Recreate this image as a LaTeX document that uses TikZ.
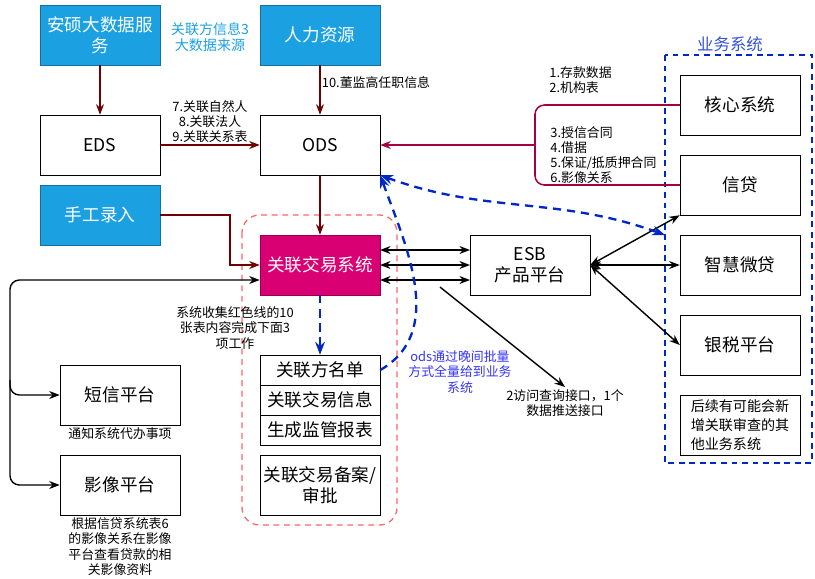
\documentclass[tikz,border=0pt]{standalone}
\usepackage{fontspec}
\setmainfont{Noto Sans CJK SC}
\usepackage{tikz}
\usetikzlibrary{arrows.meta}
\usetikzlibrary{positioning}
\definecolor{skyblue}{HTML}{1BA1E2}
\definecolor{rosered}{HTML}{D80073}
\definecolor{darkred}{HTML}{6F0000}
\definecolor{plum}{HTML}{A50040}
\definecolor{dashblue}{HTML}{0027C8}
\tikzset{
    box/.style={draw, minimum width=3.6cm, minimum height=1.8cm, align=center, inner sep=1pt, font=\fontsize{15}{18}\selectfont},
    srcbox/.style={box, fill=skyblue, draw=skyblue!70!black, text=white},
    feed/.style={darkred, line width=1.3pt, -{Stealth[length=9pt]}},
    link/.style={line width=1.2pt, {Stealth[length=9pt]}-{Stealth[length=9pt]}},
    batch/.style={dashblue, line width=2pt, dash pattern=on 7pt off 5pt},
    note/.style={font=\fontsize{11}{13}\selectfont, align=center, inner sep=1pt}
}
\begin{document}
\begin{tikzpicture}[x=0.03cm, y=-0.03cm]
\useasboundingbox (0,0) rectangle (815,578);
% sources and warehouses
\node[srcbox] (anshuo) at (100,35) {安硕大数据服\\务};
\node[srcbox] (hr) at (320,35) {人力资源};
\node[box] (eds) at (100,145) {EDS};
\node[box] (ods) at (320,145) {ODS};
\node[srcbox] (manual) at (100,215) {手工录入};
\node[note, text=skyblue, font=\fontsize{12}{14}\selectfont] (src3) at (210,37) {关联方信息3\\大数据来源};
% related transaction system
\draw[line width=1.1pt, red!60, dash pattern=on 5pt off 4pt, rounded corners=15] (242,215) rectangle (397,525);
\node[box, fill=rosered, text=white, draw=rosered!70!black] (rts) at (320,265) {关联交易系统};
\node[box, minimum height=0.9cm] (list) at (320,370) {关联方名单};
\node[box, minimum height=0.9cm] (info) at (320,400) {关联交易信息};
\node[box, minimum height=0.9cm] (report) at (320,430) {生成监管报表};
\node[box] (approve) at (320,485) {关联交易备案/\\审批};
\node[box] (esb) at (530,265) {ESB\\产品平台};
\node[box] (sms) at (120,395) {短信平台};
\node[box] (image) at (120,485) {影像平台};
% business systems
\draw[line width=1.6pt, dashblue, dash pattern=on 5pt off 4pt] (665,55) rectangle (812,463);
\node[text=dashblue!80, font=\fontsize{14}{16}\selectfont] (bizlabel) at (730,44) {业务系统};
\node[box] (core) at (740,105) {核心系统};
\node[box] (credit) at (740,185) {信贷};
\node[box] (micro) at (740,265) {智慧微贷};
\node[box] (tax) at (740,345) {银税平台};
\node[box, align=left, font=\fontsize{12}{16}\selectfont] (future) at (740,425) {后续有可能会新\\增关联审查的其\\他业务系统};
% feeds into ODS
\draw[feed] (anshuo) -- (eds);
\draw[feed] (hr) -- node[right, note, text=black, pos=0.35] {10.董监高任职信息} (ods);
\draw[feed] (eds) -- node[above, note, text=black] {7.关联自然人\\8.关联法人\\9.关联关系表} (ods);
\draw[feed] (ods) -- (rts);
\draw[feed] (manual.east) -| (230,265) -- (rts.west);
\coordinate (brace) at (535,145);
\draw[plum, line width=1.3pt, rounded corners=8] (core.west) -| (brace) |- (credit.west);
\draw[plum, line width=1.3pt, -{Stealth[length=9pt]}] (brace) -- (ods.east);
\node[note, align=left, anchor=west] at (548,80) {1.存款数据\\2.机构表};
\node[note, align=left, anchor=west] at (549,155) {3.授信合同\\4.借据\\5.保证/抵质押合同\\6.影像关系};
% ESB links
\foreach \y in {250,265,280}
    \draw[link] (380,\y) -- (470,\y);
\draw[link] (esb.east) -- (credit.south west);
\draw[link] (esb.east) -- (micro.west);
\draw[link] (esb.east) -- (tax.west);
\coordinate (query) at (565,387);
\draw[line width=1.2pt, -{Stealth[length=9pt]}] (440,287) -- (query);
\node[note, below=1pt of query] {2访问查询接口，1个\\数据推送接口};
% notifications
\draw[link, rounded corners=8] (rts.west |- 0,280) -- (10,280) |- (sms.west);
\draw[line width=1.2pt, -{Stealth[length=9pt]}, rounded corners=8] (10,380) |- (image.west);
\node[note, below=1pt of sms] {通知系统代办事项};
\node[note, below=1pt of image] {根据信贷系统表6\\的影像关系在影像\\平台查看贷款的相\\关影像资料};
% batch distribution
\draw[batch, {Stealth[length=11pt]}-{Stealth[length=11pt]}] (ods.south east) to[out=-20, in=160] (665,235);
\draw[batch, -{Stealth[length=11pt]}] (list.east) to[out=30, in=-70] (ods.south east);
\draw[batch, -{Stealth[length=11pt]}] (rts.south) -- (list.north);
\node[note] at (235,328) {系统收集红色线的10\\张表内容完成下面3\\项工作};
\node[note, text=blue!80] at (460,372) {ods通过晚间批量\\方式全量给到业务\\系统};
\end{tikzpicture}
\end{document}
